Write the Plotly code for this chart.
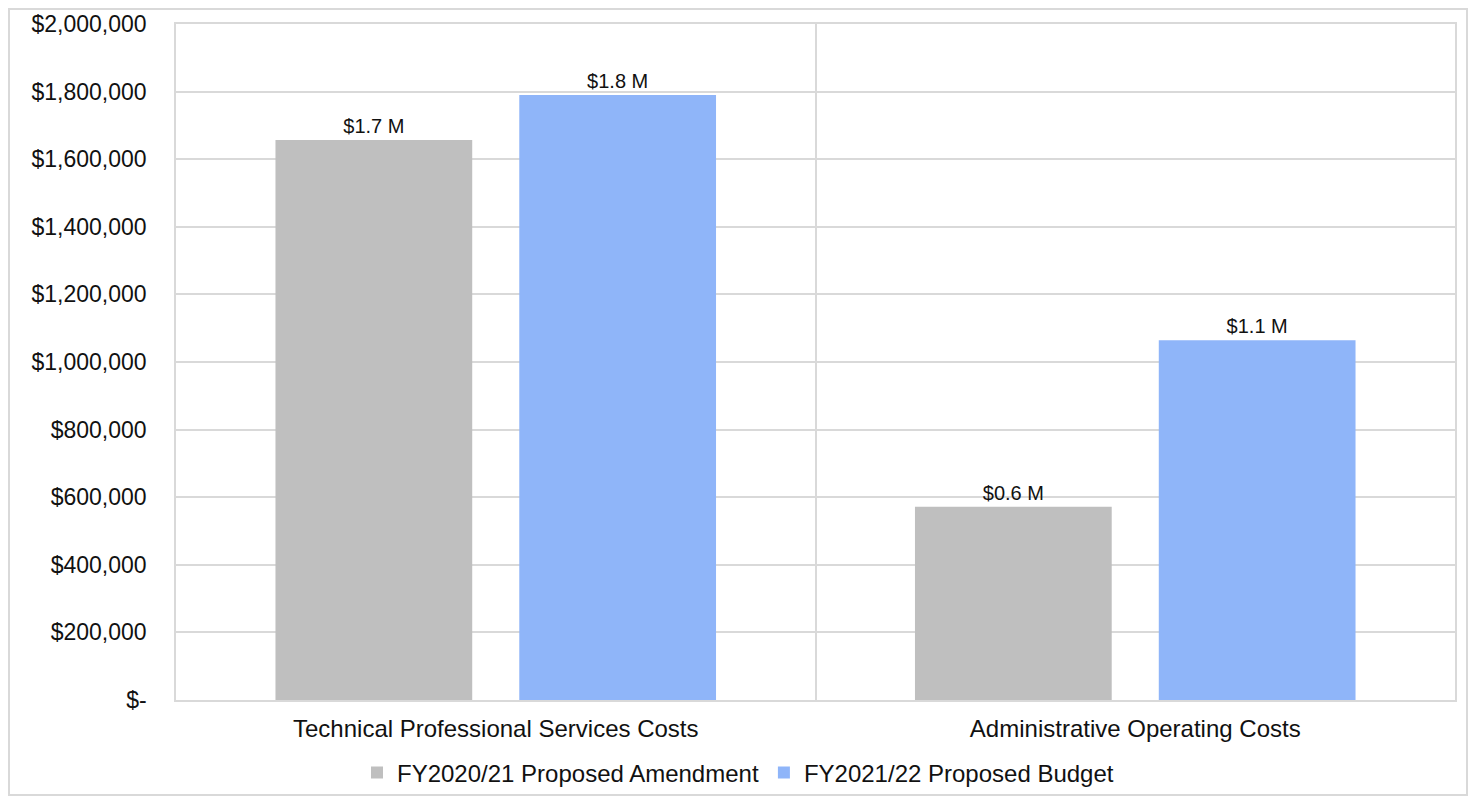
import plotly.graph_objects as go

categories = ["Technical Professional Services Costs", "Administrative Operating Costs"]
series_names = ["FY2020/21 Proposed Amendment", "FY2021/22 Proposed Budget"]
amendment_values = [1657000, 572000]
budget_values = [1790000, 1064000]
tick_values = [0, 200000, 400000, 600000, 800000, 1000000, 1200000, 1400000, 1600000, 1800000, 2000000]
tick_labels = ["$-", "$200,000", "$400,000", "$600,000", "$800,000", "$1,000,000",
               "$1,200,000", "$1,400,000", "$1,600,000", "$1,800,000", "$2,000,000"]

colors = ["#BFBFBF", "#8FB5F9"]
FONT = "Liberation Sans, Arial, sans-serif"
# page body has an 8px margin; figure sized to fit the 1476x804 window
W, H = 1460, 788
ML, MR, MT, MB = 168, 13, 16, 96

def lbl(vals):
    return [f"${v/1e6:.1f} M" for v in vals]

fig = go.Figure()
for name, vals, c in zip(series_names, [amendment_values, budget_values], colors):
    fig.add_trace(go.Bar(
        x=categories, y=vals, name=name, marker=dict(color=c, line=dict(width=0)),
        text=lbl(vals), textposition="outside", cliponaxis=False,
        textfont=dict(family=FONT, size=20, color="#111111"),
    ))

pw = W - ML - MR
ph = H - MT - MB
fig.add_shape(type="rect", xref="paper", yref="paper",
              x0=(1 - ML) / pw, x1=(W - 1 - ML) / pw,
              y0=-(H - 1 - MT - ph) / ph, y1=(ph + MT - 1) / ph,
              line=dict(color="#D9D9D9", width=2), layer="below")

fig.update_layout(
    width=W, height=H,
    margin=dict(l=ML, r=MR, t=MT, b=MB, autoexpand=False),
    paper_bgcolor="white", plot_bgcolor="white",
    barmode="group", bargap=0.2375, bargroupgap=0.193,
    font=dict(family=FONT, color="#111111"),
    showlegend=True,
    legend=dict(orientation="h", xref="container", x=0.5, xanchor="center",
                yref="container", y=1 - 765 / H, yanchor="middle",
                bgcolor="rgba(0,0,0,0)",
                font=dict(family=FONT, size=24, color="#111111"),
                itemwidth=30, traceorder="normal"),
)
fig.update_xaxes(
    automargin=False,
    showgrid=True, tickson="boundaries", gridcolor="#D9D9D9", gridwidth=1.5,
    showline=True, mirror=True, linecolor="#D9D9D9", linewidth=1.5,
    ticks="", tickfont=dict(family=FONT, size=24, color="#111111"),
    ticklabelstandoff=6,
)
fig.update_yaxes(
    automargin=False,
    range=[0, 2000000], tickvals=tick_values, ticktext=tick_labels,
    showgrid=True, gridcolor="#D9D9D9", gridwidth=1.5,
    showline=True, mirror=True, linecolor="#D9D9D9", linewidth=1.5,
    ticks="", tickfont=dict(family=FONT, size=23, color="#111111"),
    ticklabelstandoff=23, zeroline=False,
)

fig.write_html("out.html")
